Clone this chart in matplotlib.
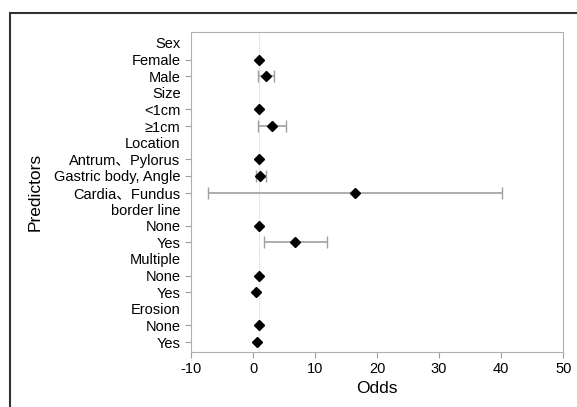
import matplotlib.pyplot as plt
from matplotlib.patches import Rectangle
import numpy as np

plt.rcParams['font.family'] = ['Liberation Sans', 'Noto Sans CJK SC', 'DejaVu Sans']
plt.rcParams['axes.unicode_minus'] = False

labels = ["Sex", "Female", "Male", "Size", "<1cm", "≥1cm", "Location",
          "Antrum、Pylorus", "Gastric body, Angle", "Cardia、Fundus",
          "border line", "None", "Yes", "Multiple", "None", "Yes",
          "Erosion", "None", "Yes"]
# None = header row (no point)
odds = [None, 1.0, 2.1, None, 1.0, 3.0, None,
        1.0, 1.2, 16.5,
        None, 1.0, 6.8, None, 1.0, 0.5,
        None, 1.0, 0.6]
ci_low = [None, None, 0.8, None, None, 0.8, None,
          None, 0.5, -7.3,
          None, None, 1.7, None, None, None,
          None, None, None]
ci_high = [None, None, 3.4, None, None, 5.3, None,
           None, 2.1, 40.2,
           None, None, 11.9, None, None, None,
           None, None, None]

fig = plt.figure(figsize=(5.77, 4.07), dpi=100)
ax = fig.add_axes([0.331, 0.135, 0.645, 0.786])

# outer frame
fig.patches.append(Rectangle((10 / 577, -0.1), 1.2, 1 - 13 / 407 + 0.1,
                             transform=fig.transFigure, fill=False,
                             edgecolor='#333333', linewidth=1.5))

n = len(labels)
y = np.arange(n)

ax.axvline(1, color='#e8e8e8', linewidth=0.8, zorder=0)

for i in range(n):
    if odds[i] is None:
        continue
    if ci_low[i] is not None:
        ax.errorbar(odds[i], y[i],
                    xerr=[[odds[i] - ci_low[i]], [ci_high[i] - odds[i]]],
                    fmt='none', ecolor='#a0a0a0', elinewidth=1.2,
                    capsize=4, capthick=1.0, zorder=2)
    ax.plot(odds[i], y[i], marker='D', color='black', markersize=5, zorder=3)

ax.set_xlim(-10, 50)
ax.set_ylim(n - 0.4, -0.65)
ax.set_xticks([-10, 0, 10, 20, 30, 40, 50])

ax.set_yticks(y)
ax.set_yticklabels(labels, fontsize=10.5)
for i, t in enumerate(ax.yaxis.get_major_ticks()):
    if odds[i] is None:
        t.tick1line.set_visible(False)

ax.tick_params(axis='x', labelsize=10.5, color='#a0a0a0', length=4)
ax.tick_params(axis='y', color='#a0a0a0', length=4)
for s in ax.spines.values():
    s.set_color('#b0b0b0')

ax.set_xlabel("Odds", fontsize=12.5, labelpad=3)
ax.set_ylabel("Predictors", fontsize=12.5, labelpad=8)

plt.savefig("out.png", dpi=100)
